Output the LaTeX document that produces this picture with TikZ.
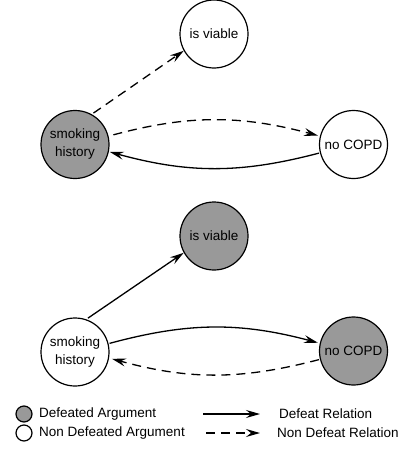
\documentclass[tikz,border=0pt]{standalone}
\usepackage{fontspec}
\setmainfont{Liberation Sans}
\usetikzlibrary{arrows.meta}
\definecolor{defgray}{RGB}{153,153,153}
\tikzset{
  arg/.style={circle, draw=black, line width=1.2pt, minimum size=68pt, inner sep=0pt, align=center, font=\fontsize{13.5}{18}\selectfont},
  defeated/.style={arg, fill=defgray},
  nondefeated/.style={arg, fill=white},
  legcirc/.style={circle, draw=black, line width=1.2pt, minimum size=16pt, inner sep=0pt},
  legtext/.style={anchor=west, inner sep=0pt, font=\fontsize{13.5}{16}\selectfont},
  rel/.style={line width=1.3pt, -{Stealth[length=14pt,width=8pt,inset=5pt]}},
  defeatrel/.style={rel},
  nondefeatrel/.style={rel, dash pattern=on 9pt off 6pt},
}
\begin{document}
\begin{tikzpicture}[x=1pt,y=-1pt]
\useasboundingbox (0,0) rectangle (406,455);
% top graph
\node[nondefeated] (v1) at (214,34) {is viable};
\node[defeated] (s1) at (75,144.5) {smoking\\history};
\node[nondefeated] (n1) at (353.5,144.5) {no COPD};
\draw[nondefeatrel, shorten <=2pt] (s1.61) -- (v1.209);
\draw[nondefeatrel, shorten <=5pt, shorten >=2pt] (s1.14) to[bend left=15] (n1.166);
\draw[defeatrel, shorten <=1pt, shorten >=1pt] (n1.194) to[bend left=15] (s1.-12);
% bottom graph
\node[defeated] (v2) at (214,236) {is viable};
\node[nondefeated] (s2) at (75,352) {smoking\\history};
\node[defeated] (n2) at (353.5,351) {no COPD};
\draw[defeatrel, shorten <=2pt] (s2.71) -- (v2.209);
\draw[defeatrel, shorten <=1pt, shorten >=2pt] (s2.14) to[bend left=15] (n2.167);
\draw[nondefeatrel, shorten <=1pt, shorten >=3pt] (n2.194) to[bend left=15] (s2.-10);
% legend
\node[legcirc, fill=defgray] (lc1) at (24,414) {};
\node[legtext] (lt1) at (39,414) {Defeated Argument};
\node[legcirc, fill=white] (lc2) at (24,433) {};
\node[legtext] (lt2) at (39,433) {Non Defeated Argument};
\coordinate (la1) at (203,414);
\coordinate (lb1) at (260,414);
\coordinate (la2) at (206,433);
\coordinate (lb2) at (260,433);
\draw[defeatrel] (la1) -- (lb1);
\draw[nondefeatrel] (la2) -- (lb2);
\node[legtext] (lr1) at (279,414) {Defeat Relation};
\node[legtext] (lr2) at (277,433) {Non Defeat Relation};
\end{tikzpicture}
\end{document}
